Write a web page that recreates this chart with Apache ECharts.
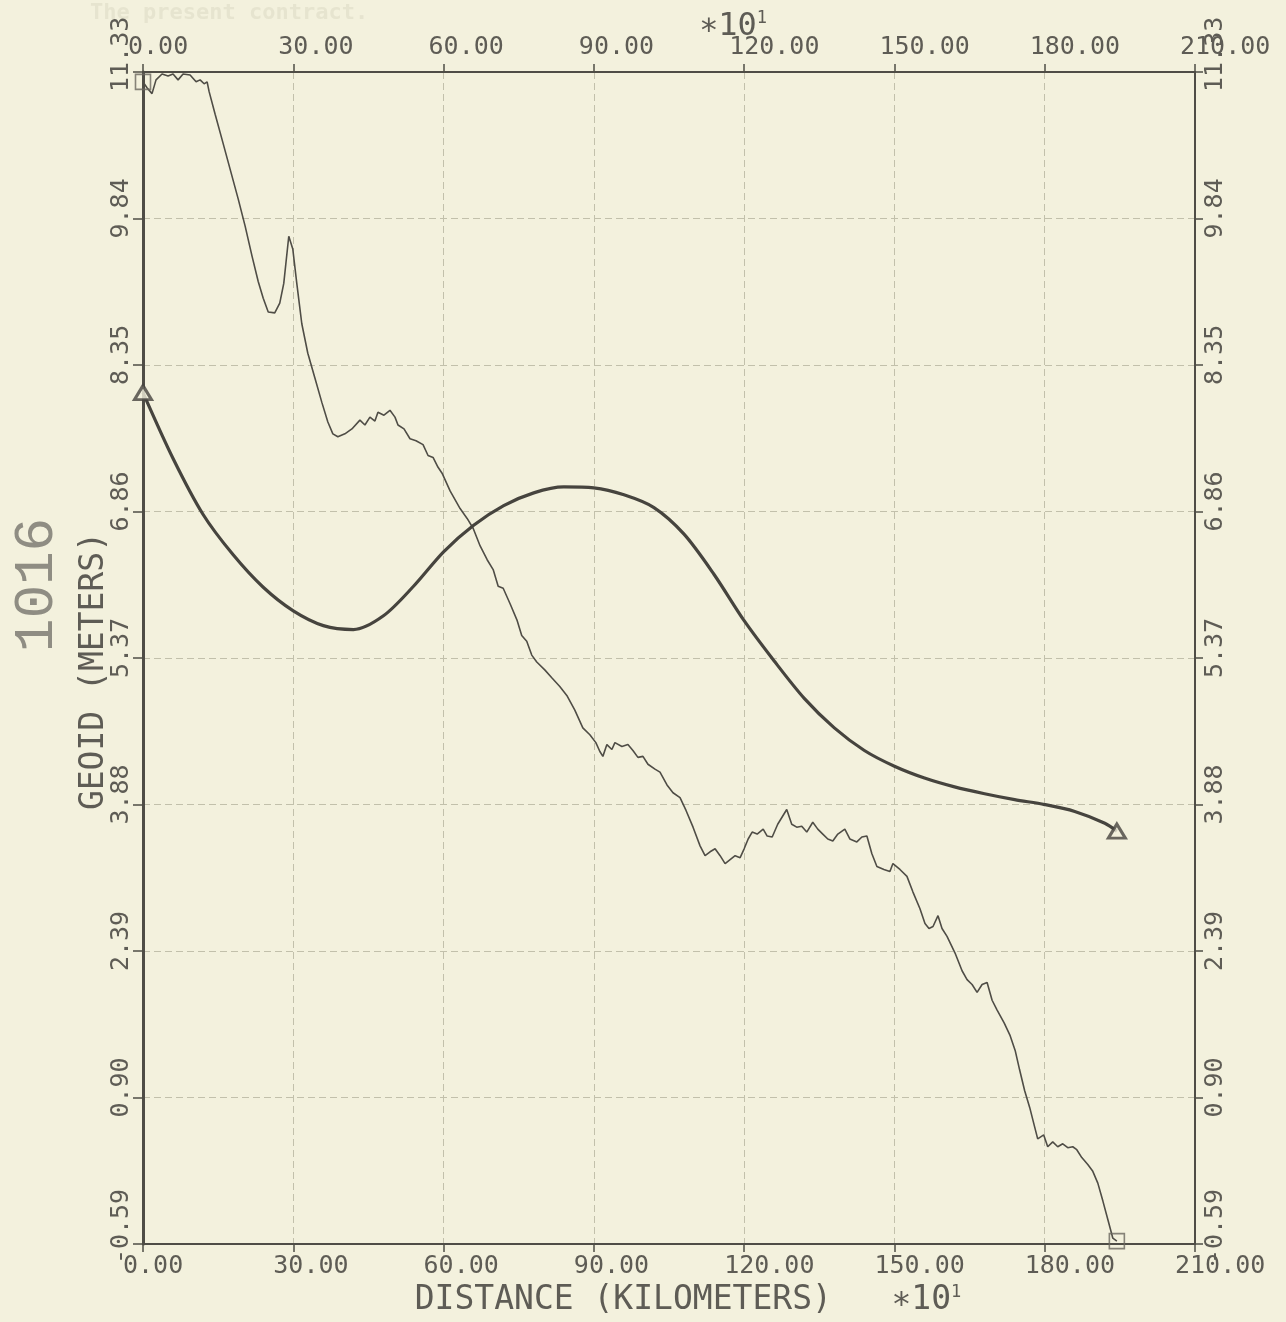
<!DOCTYPE html>
<html>
<head>
<meta charset="utf-8">
<title>1016 GEOID</title>
<script src="https://cdn.jsdelivr.net/npm/echarts@6/dist/echarts.min.js"></script>
<style>
    html, body { margin: 0; padding: 0; background: #f3f1dd; }
    #main { width: 1286px; height: 1322px; }
</style>
</head>
<body>
<div id="main"></div>
<script>
// x: distance (x10^1 km), y: geoid (m)
var xTickLabels = ['0.00', '30.00', '60.00', '90.00', '120.00', '150.00', '180.00', '210.00'];
var yTickLabels = ['-0.59', '0.90', '2.39', '3.88', '5.37', '6.86', '8.35', '9.84', '11.33'];

// smooth curve (triangles at the ends)
var smoothX = [0, 6, 12, 18, 24, 30, 36, 42, 48, 54, 60, 66, 72, 78, 84, 90, 96, 102, 108, 114, 120,
    126, 132, 138, 144, 150, 156, 162, 168, 174, 180, 186, 192, 194.4];
var smoothY = [8.07, 7.40, 6.83, 6.42, 6.09, 5.85, 5.70, 5.66, 5.80, 6.10, 6.45, 6.72, 6.92, 7.05, 7.11,
    7.10, 7.03, 6.90, 6.63, 6.22, 5.75, 5.34, 4.96, 4.66, 4.43, 4.27, 4.15, 4.06, 3.99, 3.93, 3.88, 3.81,
    3.69, 3.61];

// noisy profile (squares at the ends)
var noisyX = [0, 0.8, 1.8, 2.6, 3.8, 5.0, 6.0, 7.0, 8.0, 9.4, 10.6, 11.4, 12.2, 12.8, 13.2, 14.4, 15.8, 17.4,
    19.0, 20.4, 21.8, 23.0, 24.0, 25.0, 26.3, 27.3, 28.1, 29.1, 29.9, 30.7, 31.7, 32.9, 34.3, 35.7, 36.9,
    37.9, 38.9, 40.3, 41.7, 43.3, 44.3, 45.3, 46.3, 46.9, 48.1, 49.3, 50.3, 50.9, 52.1, 53.3, 54.5, 55.9,
    56.9, 57.9, 58.9, 59.7, 61.3, 63.3, 64.7, 65.9, 67.3, 68.7, 69.9, 70.9, 71.9, 73.3, 74.7, 75.6, 76.6,
    77.6, 78.6, 80.2, 81.6, 83.2, 84.6, 86.2, 87.8, 89.2, 90.4, 91.2, 91.8, 92.6, 93.6, 94.2, 95.6, 96.8,
    97.8, 98.8, 99.8, 100.8, 102.2, 103.2, 104.6, 105.8, 107.2, 108.4, 109.8, 111.2, 112.2, 113.2, 114.2,
    115.2, 116.2, 117.2, 118.2, 119.2, 120.0, 120.8, 121.6, 122.6, 123.8, 124.6, 125.6, 126.7, 128.5,
    129.5, 130.5, 131.5, 132.5, 133.7, 134.7, 135.7, 136.7, 137.7, 138.7, 140.1, 141.1, 142.5, 143.5,
    144.5, 145.5, 146.5, 147.9, 149.1, 149.7, 151.1, 152.5, 153.7, 155.1, 156.1, 156.9, 157.7, 158.7,
    159.5, 160.5, 162.1, 163.5, 164.5, 165.5, 166.5, 167.5, 168.5, 169.5, 170.5, 171.9, 173.1, 174.1,
    175.0, 176.0, 177.0, 178.0, 178.6, 179.2, 179.8, 180.6, 181.6, 182.6, 183.6, 184.6, 185.6, 186.4,
    187.4, 188.6, 189.6, 190.6, 191.6, 192.6, 193.6, 194.4];
var noisyY = [11.23, 11.17, 11.11, 11.25, 11.31, 11.29, 11.31, 11.25, 11.31, 11.30, 11.23, 11.25, 11.21, 11.23,
    11.13, 10.90, 10.64, 10.34, 10.04, 9.76, 9.45, 9.20, 9.03, 8.89, 8.88, 8.98, 9.18, 9.66, 9.53, 9.18,
    8.77, 8.47, 8.22, 7.97, 7.77, 7.65, 7.62, 7.65, 7.70, 7.79, 7.74, 7.82, 7.78, 7.87, 7.84, 7.89, 7.82,
    7.74, 7.70, 7.60, 7.58, 7.54, 7.43, 7.41, 7.31, 7.25, 7.07, 6.89, 6.79, 6.69, 6.51, 6.37, 6.27, 6.10,
    6.08, 5.92, 5.75, 5.60, 5.54, 5.40, 5.33, 5.25, 5.17, 5.08, 4.99, 4.84, 4.66, 4.59, 4.51, 4.42, 4.37,
    4.49, 4.44, 4.51, 4.47, 4.49, 4.43, 4.36, 4.37, 4.29, 4.24, 4.21, 4.08, 4.00, 3.95, 3.82, 3.65, 3.46,
    3.36, 3.40, 3.43, 3.36, 3.28, 3.32, 3.36, 3.34, 3.43, 3.53, 3.60, 3.58, 3.63, 3.56, 3.55, 3.68, 3.83,
    3.68, 3.65, 3.66, 3.60, 3.70, 3.63, 3.58, 3.53, 3.51, 3.58, 3.63, 3.53, 3.50, 3.55, 3.56, 3.38, 3.25,
    3.22, 3.20, 3.28, 3.22, 3.15, 2.99, 2.82, 2.67, 2.62, 2.64, 2.75, 2.62, 2.54, 2.37, 2.19, 2.10, 2.05,
    1.97, 2.05, 2.07, 1.89, 1.79, 1.66, 1.53, 1.38, 1.18, 0.97, 0.80, 0.60, 0.48, 0.50, 0.52, 0.40, 0.45,
    0.40, 0.43, 0.39, 0.40, 0.37, 0.29, 0.22, 0.15, 0.03, -0.15, -0.34, -0.53, -0.56];

// the y axis starts at -0.59, shift so ticks line up with a 1.49 step from 0
var yShift = 0.59;
var yStep = 1.49;
var xStep = 30;

function toPairs(xs, ys) {
    return xs.map(function (x, i) { return [x, ys[i] + yShift]; });
}
function ends(xs, ys) {
    var n = xs.length - 1;
    return [[xs[0], ys[0] + yShift], [xs[n], ys[n] + yShift]];
}

var bg = '#f3f1dd';
var ink = '#4f4d46';
var txt = '#5e5c55';
var mono = '"DejaVu Sans Mono", "Liberation Mono", monospace';

var xLabel = function (v) { return xTickLabels[Math.round(v / xStep)]; };
var yLabel = function (v) { return yTickLabels[Math.round(v / yStep)]; };

var myChart = echarts.init(document.getElementById('main'));

var option = {
    backgroundColor: bg,
    animation: false,
    grid: { left: 143, right: 91, top: 72, bottom: 69 },
    graphic: [
        {
            type: 'text', left: 90, top: 2,
            style: { text: 'The present contract.', font: 'bold 22px ' + mono, fill: '#e6e4cf' }
        },
        {
            type: 'text', x: 37, y: 585, rotation: Math.PI / 2,
            style: { text: '1016', font: '56px "Liberation Mono", monospace', fill: '#8f8d83', align: 'center', verticalAlign: 'middle' }
        },
        {
            type: 'text', x: 733, y: 27,
            style: {
                text: '∗10{s|1}', font: '32px ' + mono, fill: txt, align: 'center', verticalAlign: 'middle',
                rich: { s: { font: '17px ' + mono, fill: txt, verticalAlign: 'top', padding: [0, 0, 16, 0] } }
            }
        }
    ],
    xAxis: [
        {
            type: 'value', position: 'bottom', min: 0, max: 210, interval: xStep,
            name: 'DISTANCE (KILOMETERS)   ∗10{s|1}', nameLocation: 'middle', nameGap: 35,
            nameTextStyle: {
                color: txt, fontFamily: mono, fontSize: 33, padding: [0, 0, 0, 38],
                rich: { s: { color: txt, fontFamily: mono, fontSize: 17, verticalAlign: 'top', padding: [0, 0, 16, 0] } }
            },
            axisLine: { show: true, onZero: false, lineStyle: { color: ink, width: 2 } },
            axisTick: { show: true, length: 8, lineStyle: { color: ink, width: 1.5 } },
            axisLabel: {
                formatter: xLabel, color: txt, fontFamily: mono, fontSize: 25, margin: 10,
                align: 'left', padding: [0, 0, 0, -20], showMinLabel: true, showMaxLabel: true
            },
            splitLine: { show: true, lineStyle: { color: '#c2c0ab', width: 1, type: [7, 4] } }
        },
        {
            type: 'value', position: 'top', min: 0, max: 210, interval: xStep,
            axisLine: { show: true, onZero: false, lineStyle: { color: ink, width: 2 } },
            axisTick: { show: true, length: 8, lineStyle: { color: ink, width: 1.5 } },
            axisLabel: {
                formatter: xLabel, color: txt, fontFamily: mono, fontSize: 25, margin: 12,
                align: 'left', padding: [0, 0, 0, -15], showMinLabel: true, showMaxLabel: true
            },
            splitLine: { show: false }
        }
    ],
    yAxis: [
        {
            type: 'value', position: 'left', min: 0, max: 11.92, interval: yStep,
            name: 'GEOID (METERS)', nameLocation: 'middle', nameGap: 32, nameRotate: 90,
            nameMoveOverlap: false,
            nameTextStyle: { color: txt, fontFamily: mono, fontSize: 33, padding: [0, 26, 0, 0] },
            axisLine: { show: true, onZero: false, lineStyle: { color: ink, width: 3 } },
            axisTick: { show: true, length: 10, lineStyle: { color: ink, width: 1.5 } },
            axisLabel: {
                formatter: yLabel, color: txt, fontFamily: mono, fontSize: 25, margin: 9, rotate: 90,
                align: 'left', verticalAlign: 'bottom', padding: [0, 0, 0, -20],
                showMinLabel: true, showMaxLabel: true
            },
            splitLine: { show: true, lineStyle: { color: '#c2c0ab', width: 1, type: [7, 4] } }
        },
        {
            type: 'value', position: 'right', min: 0, max: 11.92, interval: yStep,
            axisLine: { show: true, onZero: false, lineStyle: { color: ink, width: 2 } },
            axisTick: { show: true, length: 8, lineStyle: { color: ink, width: 1.5 } },
            axisLabel: {
                formatter: yLabel, color: txt, fontFamily: mono, fontSize: 25, margin: 8, rotate: 90,
                align: 'left', verticalAlign: 'top', padding: [0, 0, 0, -20],
                showMinLabel: true, showMaxLabel: true
            },
            splitLine: { show: false }
        }
    ],
    series: [
        {
            name: 'profile', type: 'line', data: toPairs(noisyX, noisyY),
            showSymbol: false, lineStyle: { color: ink, width: 1.6 }, z: 3
        },
        {
            name: 'model', type: 'line', data: toPairs(smoothX, smoothY), smooth: 0.3,
            showSymbol: false, lineStyle: { color: '#46443e', width: 3.2 }, z: 4
        },
        {
            name: 'profile ends', type: 'scatter', data: ends(noisyX, noisyY),
            symbol: 'rect', symbolSize: 15,
            itemStyle: { color: 'rgba(0,0,0,0)', borderColor: '#6a685f', borderWidth: 1.6 }, z: 5
        },
        {
            name: 'model ends', type: 'scatter', data: ends(smoothX, smoothY),
            symbol: 'triangle', symbolSize: [17, 14],
            itemStyle: { color: bg, borderColor: '#46443e', borderWidth: 3 }, z: 5
        }
    ]
};

myChart.setOption(option);
</script>
</body>
</html>
